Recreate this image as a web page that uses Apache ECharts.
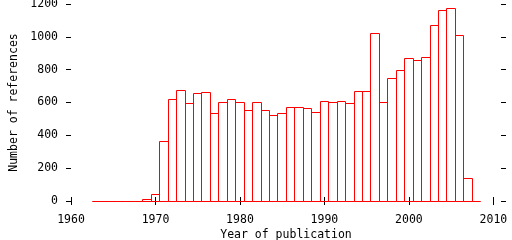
<!DOCTYPE html>
<html>
<head>
<meta charset="utf-8">
<script src="https://cdn.jsdelivr.net/npm/echarts@6/dist/echarts.min.js"></script>
<style>html,body{margin:0;padding:0;background:#fff;}#c{width:512px;height:240px;}</style>
</head>
<body>
<div id="c"></div>
<script>
const years = [1963,1964,1965,1966,1967,1968,1969,1970,1971,1972,1973,1974,1975,1976,1977,1978,1979,1980,1981,1982,1983,1984,1985,1986,1987,1988,1989,1990,1991,1992,1993,1994,1995,1996,1997,1998,1999,2000,2001,2002,2003,2004,2005,2006,2007,2008];
const refs = [0,0,0,0,0,0,12,37,365,617,672,591,652,658,536,597,621,597,554,597,554,518,536,572,572,566,542,609,603,609,591,670,670,1023,597,749,792,871,853,877,1066,1163,1175,1011,140,0];
const xTicks = [1960,1970,1980,1990,2000,2010];
const yTicks = [0,200,400,600,800,1000,1200];
const xTitle = 'Year of publication';
const yTitle = 'Number of references';

const font = {fontFamily:'DejaVu Sans Mono', fontSize:11.5, color:'#000'};
const plain = v => String(v);
const G = {left:71, right:11, top:4, bottom:39};
const X_MIN = 1960, X_MAX = 2010.9;
const chart = echarts.init(document.getElementById('c'), null, {renderer:'canvas'});
const xBase = {type:'value', min:X_MIN, max:X_MAX, splitLine:{show:false}, axisLine:{show:false}};
const yBase = {type:'value', min:0, max:1200, interval:200, splitLine:{show:false}, axisLine:{show:false}};
const crisp = v => Math.floor(v) + 0.5;
function renderBox(params, api) {
  const yr = api.value(0), val = api.value(1);
  const a = api.coord([yr - 0.5, 0]);
  const b = api.coord([yr + 0.5, val]);
  const x0 = crisp(a[0]), x1 = crisp(b[0]), y0 = crisp(a[1]), y1 = crisp(b[1]);
  return {
    type:'polyline',
    shape:{points:[[x0,y0],[x0,y1],[x1,y1],[x1,y0],[x0,y0]]},
    style:{stroke:'#ff0000', fill:null, lineWidth:1}
  };
}
chart.setOption({
  animation:false,
  backgroundColor:'#fff',
  grid:Object.assign({outerBoundsMode:'none', containLabel:false}, G),
  xAxis:[
    Object.assign({}, xBase, {position:'bottom',
      name:xTitle, nameLocation:'middle', nameGap:28, nameMoveOverlap:false, nameTextStyle:font,
      axisTick:{show:true, inside:false, length:4, lineStyle:{color:'#000'}, customValues:xTicks},
      axisLabel:Object.assign({show:true, margin:13, customValues:xTicks, formatter:plain}, font)}),
    Object.assign({}, xBase, {position:'top',
      axisTick:{show:true, inside:false, length:4, lineStyle:{color:'#000'}, customValues:xTicks},
      axisLabel:{show:false}})
  ],
  yAxis:[
    Object.assign({}, yBase, {position:'left',
      name:yTitle, nameLocation:'middle', nameGap:51, nameMoveOverlap:false, nameTextStyle:font,
      axisTick:{show:true, inside:false, length:5, lineStyle:{color:'#000'}, customValues:yTicks},
      axisLabel:Object.assign({show:true, margin:13, customValues:yTicks, formatter:plain}, font)}),
    Object.assign({}, yBase, {position:'right',
      axisTick:{show:true, inside:false, length:5, lineStyle:{color:'#000'}, customValues:yTicks},
      axisLabel:{show:false}})
  ],
  series:[{
    type:'custom', xAxisIndex:0, yAxisIndex:0,
    renderItem: renderBox,
    encode:{x:0, y:1},
    data: years.map((y,i)=>[y, refs[i]]),
    emphasis:{disabled:true}
  }]
});
</script>
</body>
</html>
